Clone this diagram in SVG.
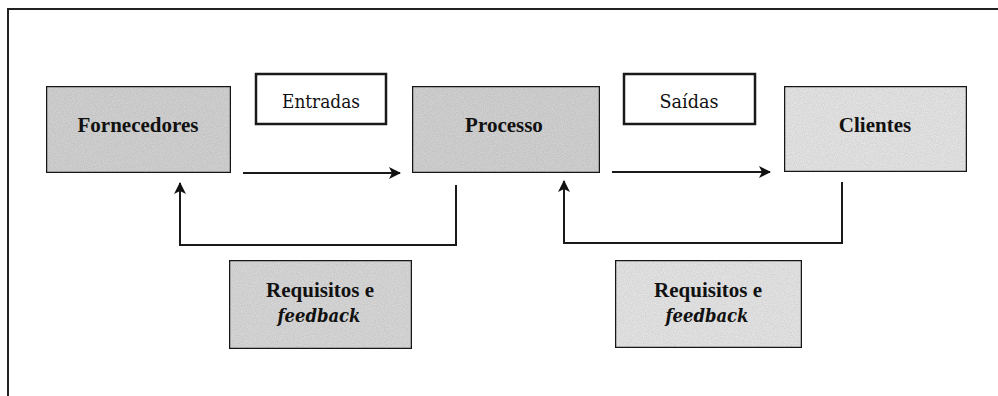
<svg xmlns="http://www.w3.org/2000/svg" width="998" height="396" viewBox="0 0 998 396">
<defs>
<marker id="ah" viewBox="0 0 12 12" refX="11" refY="6" markerWidth="12" markerHeight="12" markerUnits="userSpaceOnUse" orient="auto">
<path d="M0,0 L12,6 L0,12 L3,6 Z" fill="#111"/>
</marker>
<filter id="grain" x="0" y="0" width="100%" height="100%">
<feTurbulence type="fractalNoise" baseFrequency="0.9" numOctaves="2" seed="3" result="n"/>
<feColorMatrix in="n" type="matrix" values="0 0 0 0 0  0 0 0 0 0  0 0 0 0 0  0 0 0 0.3 -0.06" result="a"/>
<feComposite in="a" in2="SourceGraphic" operator="in" result="b"/>
<feMerge><feMergeNode in="SourceGraphic"/><feMergeNode in="b"/></feMerge>
</filter>
</defs>
<style>
.box{stroke:#1a1a1a;stroke-width:2.5}
.dark{fill:#d3d3d3}
.light{fill:#e6e6e6}
.mid{fill:#d9d9d9}
.plain{fill:#fff}
.t{font-family:"Liberation Serif","Times New Roman",serif;font-size:21px;fill:#111;text-anchor:middle}
.s{font-family:"DejaVu Serif","Liberation Serif",serif;font-size:19px}
.b{font-weight:bold}
.i{font-style:italic}
.c{fill:none;stroke:#1a1a1a;stroke-width:2}
.frame{fill:none;stroke:#222;stroke-width:2}
</style>
<path class="frame" d="M8,398 L8,9 L1000,9"/>
<g id="fornecedores">
<rect class="box dark" x="46" y="86" width="185" height="87" filter="url(#grain)"/>
<text class="t b" x="138" y="132">Fornecedores</text>
</g>
<g id="entradas">
<rect class="box plain" x="256" y="74" width="130" height="50"/>
<text class="t s" x="321" y="108" textLength="78" lengthAdjust="spacingAndGlyphs">Entradas</text>
</g>
<g id="processo">
<rect class="box dark" x="412" y="86" width="188" height="87" filter="url(#grain)"/>
<text class="t b" x="504" y="132">Processo</text>
</g>
<g id="saidas">
<rect class="box plain" x="624" y="74" width="131" height="50"/>
<text class="t s" x="689" y="108" textLength="59" lengthAdjust="spacingAndGlyphs">Saídas</text>
</g>
<g id="clientes">
<rect class="box light" x="784" y="86" width="183" height="86" filter="url(#grain)"/>
<text class="t b" x="875" y="132">Clientes</text>
</g>
<g id="requisitos1">
<rect class="box mid" x="229" y="260" width="183" height="89" filter="url(#grain)"/>
<text class="t b" x="320" y="297">Requisitos e</text>
<text class="t s b i" x="319" y="322" textLength="83" lengthAdjust="spacingAndGlyphs">feedback</text>
</g>
<g id="requisitos2">
<rect class="box light" x="615" y="260" width="187" height="88" filter="url(#grain)"/>
<text class="t b" x="708" y="297">Requisitos e</text>
<text class="t s b i" x="707" y="322" textLength="83" lengthAdjust="spacingAndGlyphs">feedback</text>
</g>
<g id="connectors">
<path class="c" d="M243,173 L400,173" marker-end="url(#ah)"/>
<path class="c" d="M612,172 L770,172" marker-end="url(#ah)"/>
<path class="c" d="M456,185 L456,245 L180,245 L180,183" marker-end="url(#ah)"/>
<path class="c" d="M842,182 L842,243 L564,243 L564,181" marker-end="url(#ah)"/>
</g>
</svg>
